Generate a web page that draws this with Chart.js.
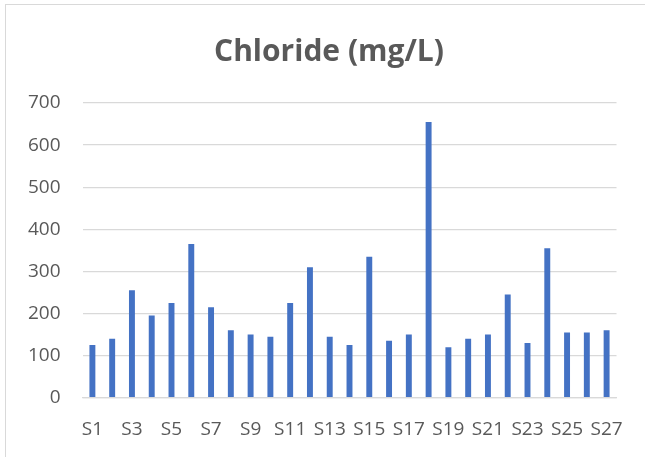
<!DOCTYPE html>
<html>
<head>
<meta charset="utf-8">
<script src="https://cdn.jsdelivr.net/npm/chart.js@4"></script>
<style>
  body { margin: 0; background: #fff; }
  #wrap { position: absolute; left: 0; top: 0; width: 645px; height: 457px; }
  #frame { position: absolute; left: 5px; top: 4px; width: 700px; height: 500px; border: 1px solid #d9d9d9; box-sizing: border-box; }
</style>
</head>
<body>
<div id="frame"></div>
<div id="wrap"><canvas id="myChart" width="645" height="457"></canvas></div>
<script>
var sites = ['S1','S2','S3','S4','S5','S6','S7','S8','S9','S10','S11','S12','S13','S14',
             'S15','S16','S17','S18','S19','S20','S21','S22','S23','S24','S25','S26','S27'];
var chloride = [125, 140, 255, 195, 225, 365, 215, 160, 150, 145, 225, 310, 145, 125,
                335, 135, 150, 655, 120, 140, 150, 245, 130, 355, 155, 155, 160];
var yTicks = [0, 100, 200, 300, 400, 500, 600, 700];
var chartTitle = 'Chloride (mg/L)';

var textGray = '#595959';
var gridGray = '#d9d9d9';

// title drawn by hand so it can sit a bit right of the canvas centre like the original
var titlePlugin = {
  id: 'excelTitle',
  afterDraw: function(chart) {
    var c = chart.ctx;
    c.save();
    c.font = 'bold 30px "Open Sans"';
    c.fillStyle = textGray;
    c.textAlign = 'center';
    c.textBaseline = 'alphabetic';
    c.fillText(chartTitle, 329, 61);
    c.restore();
  }
};

var ctx = document.getElementById('myChart');
var myChart = new Chart(ctx, {
  type: 'bar',
  data: {
    labels: sites,
    datasets: [{
      label: chartTitle,
      data: chloride,
      backgroundColor: '#4472c4',
      barPercentage: 0.5,
      categoryPercentage: 0.6
    }]
  },
  plugins: [titlePlugin],
  options: {
    responsive: false,
    animation: false,
    layout: { padding: { left: 0, right: 28.5, top: 103, bottom: 0 } },
    plugins: {
      legend: { display: false },
      tooltip: { enabled: false },
      title: { display: false }
    },
    scales: {
      x: {
        afterFit: function(scale) { scale.height = 59.3; },
        grid: { display: false, drawTicks: false },
        border: { display: true, color: gridGray, width: 1.3 },
        ticks: {
          color: textGray,
          font: { family: 'Open Sans', size: 19 },
          autoSkip: false,
          maxRotation: 0,
          padding: 20,
          callback: function(v, i) { return i % 2 === 0 ? sites[i] : ''; }
        }
      },
      y: {
        min: 0,
        max: 700,
        afterBuildTicks: function(scale) {
          scale.ticks = yTicks.map(function(v) { return { value: v }; });
        },
        afterFit: function(scale) { scale.width = 82.5; },
        grid: { color: gridGray, lineWidth: 1.3, drawTicks: false },
        border: { display: false },
        ticks: {
          color: textGray,
          font: { family: 'Open Sans', size: 19 },
          padding: 22
        }
      }
    }
  }
});
</script>
</body>
</html>
